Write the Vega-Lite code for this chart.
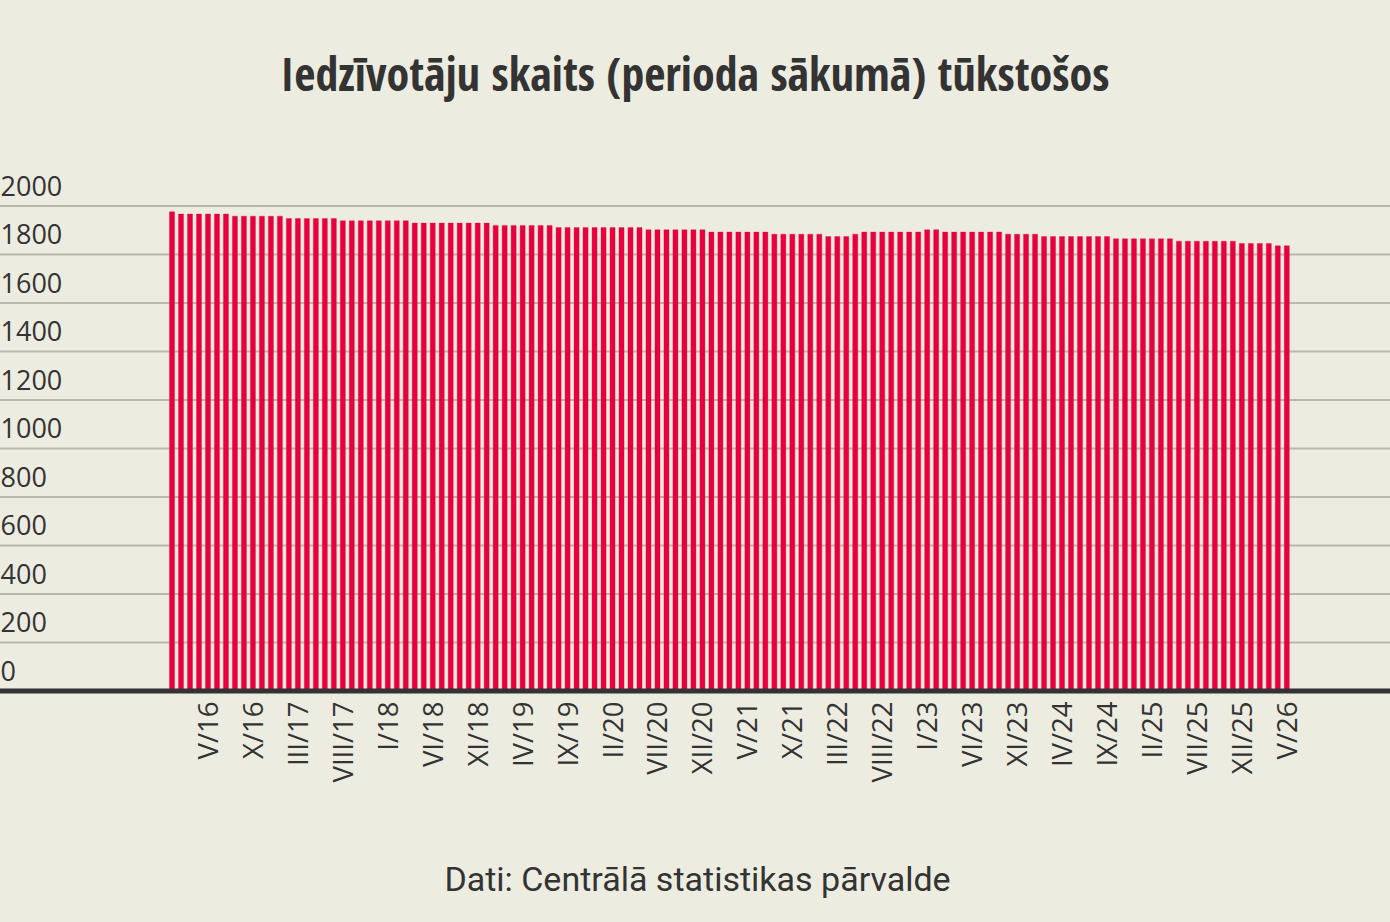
{
  "$schema": "https://vega.github.io/schema/vega-lite/v6.json",
  "width": 1390,
  "height": 485,
  "autosize": {"type": "none"},
  "padding": {"top": 206, "left": 0, "right": 0, "bottom": 231},
  "background": "#ECECE0",
  "config": {"view": {"stroke": null}},
  "title": {
    "text": "Iedzīvotāju skaits (perioda sākumā) tūkstošos",
    "font": "Open Sans Condensed, Noto Sans Condensed, Noto Sans ExtraCondensed, Liberation Sans Narrow, Roboto Condensed, DejaVu Sans Condensed, Arial Narrow, sans-serif",
    "fontSize": 46,
    "fontWeight": "bold",
    "color": "#333333",
    "anchor": "middle",
    "frame": "group",
    "baseline": "alphabetic",
    "offset": 36
  },
  "data": {
    "values": [
      {"m": "I/16", "v": 1976}, {"m": "II/16", "v": 1967}, {"m": "III/16", "v": 1967}, {"m": "IV/16", "v": 1967}, {"m": "V/16", "v": 1967}, {"m": "VI/16", "v": 1967}, {"m": "VII/16", "v": 1967}, {"m": "VIII/16", "v": 1958}, {"m": "IX/16", "v": 1958}, {"m": "X/16", "v": 1958}, {"m": "XI/16", "v": 1958}, {"m": "XII/16", "v": 1958},
      {"m": "I/17", "v": 1958}, {"m": "II/17", "v": 1948.5}, {"m": "III/17", "v": 1948.5}, {"m": "IV/17", "v": 1948.5}, {"m": "V/17", "v": 1948.5}, {"m": "VI/17", "v": 1948.5}, {"m": "VII/17", "v": 1948.5}, {"m": "VIII/17", "v": 1939}, {"m": "IX/17", "v": 1939}, {"m": "X/17", "v": 1939}, {"m": "XI/17", "v": 1939}, {"m": "XII/17", "v": 1939},
      {"m": "I/18", "v": 1939}, {"m": "II/18", "v": 1939}, {"m": "III/18", "v": 1939}, {"m": "IV/18", "v": 1929.5}, {"m": "V/18", "v": 1929.5}, {"m": "VI/18", "v": 1929.5}, {"m": "VII/18", "v": 1929.5}, {"m": "VIII/18", "v": 1929.5}, {"m": "IX/18", "v": 1929.5}, {"m": "X/18", "v": 1929.5}, {"m": "XI/18", "v": 1929.5}, {"m": "XII/18", "v": 1929.5},
      {"m": "I/19", "v": 1920}, {"m": "II/19", "v": 1920}, {"m": "III/19", "v": 1920}, {"m": "IV/19", "v": 1920}, {"m": "V/19", "v": 1920}, {"m": "VI/19", "v": 1920}, {"m": "VII/19", "v": 1920}, {"m": "VIII/19", "v": 1911}, {"m": "IX/19", "v": 1911}, {"m": "X/19", "v": 1911}, {"m": "XI/19", "v": 1911}, {"m": "XII/19", "v": 1911},
      {"m": "I/20", "v": 1911}, {"m": "II/20", "v": 1911}, {"m": "III/20", "v": 1911}, {"m": "IV/20", "v": 1911}, {"m": "V/20", "v": 1911}, {"m": "VI/20", "v": 1902}, {"m": "VII/20", "v": 1902}, {"m": "VIII/20", "v": 1902}, {"m": "IX/20", "v": 1902}, {"m": "X/20", "v": 1902}, {"m": "XI/20", "v": 1902}, {"m": "XII/20", "v": 1902},
      {"m": "I/21", "v": 1892.5}, {"m": "II/21", "v": 1892.5}, {"m": "III/21", "v": 1892.5}, {"m": "IV/21", "v": 1892.5}, {"m": "V/21", "v": 1892.5}, {"m": "VI/21", "v": 1892.5}, {"m": "VII/21", "v": 1892.5}, {"m": "VIII/21", "v": 1884}, {"m": "IX/21", "v": 1884}, {"m": "X/21", "v": 1884}, {"m": "XI/21", "v": 1884}, {"m": "XII/21", "v": 1884},
      {"m": "I/22", "v": 1884}, {"m": "II/22", "v": 1874}, {"m": "III/22", "v": 1874}, {"m": "IV/22", "v": 1874}, {"m": "V/22", "v": 1884}, {"m": "VI/22", "v": 1892.5}, {"m": "VII/22", "v": 1892.5}, {"m": "VIII/22", "v": 1892.5}, {"m": "IX/22", "v": 1892.5}, {"m": "X/22", "v": 1892.5}, {"m": "XI/22", "v": 1892.5}, {"m": "XII/22", "v": 1892.5},
      {"m": "I/23", "v": 1902}, {"m": "II/23", "v": 1902}, {"m": "III/23", "v": 1892.5}, {"m": "IV/23", "v": 1892.5}, {"m": "V/23", "v": 1892.5}, {"m": "VI/23", "v": 1892.5}, {"m": "VII/23", "v": 1892.5}, {"m": "VIII/23", "v": 1892.5}, {"m": "IX/23", "v": 1892.5}, {"m": "X/23", "v": 1884}, {"m": "XI/23", "v": 1884}, {"m": "XII/23", "v": 1884},
      {"m": "I/24", "v": 1884}, {"m": "II/24", "v": 1874}, {"m": "III/24", "v": 1874}, {"m": "IV/24", "v": 1874}, {"m": "V/24", "v": 1874}, {"m": "VI/24", "v": 1874}, {"m": "VII/24", "v": 1874}, {"m": "VIII/24", "v": 1874}, {"m": "IX/24", "v": 1874}, {"m": "X/24", "v": 1865}, {"m": "XI/24", "v": 1865}, {"m": "XII/24", "v": 1865},
      {"m": "I/25", "v": 1865}, {"m": "II/25", "v": 1865}, {"m": "III/25", "v": 1865}, {"m": "IV/25", "v": 1865}, {"m": "V/25", "v": 1855}, {"m": "VI/25", "v": 1855}, {"m": "VII/25", "v": 1855}, {"m": "VIII/25", "v": 1855}, {"m": "IX/25", "v": 1855}, {"m": "X/25", "v": 1855}, {"m": "XI/25", "v": 1855}, {"m": "XII/25", "v": 1845.5},
      {"m": "I/26", "v": 1845.5}, {"m": "II/26", "v": 1845.5}, {"m": "III/26", "v": 1845.5}, {"m": "IV/26", "v": 1836}, {"m": "V/26", "v": 1836}
    ]
  },
  "layer": [
    {
      "data": {"values": [{"g": 200}, {"g": 400}, {"g": 600}, {"g": 800}, {"g": 1000}, {"g": 1200}, {"g": 1400}, {"g": 1600}, {"g": 1800}, {"g": 2000}]},
      "mark": {"type": "rule", "color": "#B8B8AE", "strokeWidth": 2},
      "encoding": {
        "y": {"field": "g", "type": "quantitative"}
      }
    },
    {
      "mark": {"type": "bar", "color": "#E8003D", "stroke": "#E8003D", "strokeOpacity": 0.35, "strokeWidth": 1},
      "encoding": {
        "x": {
          "field": "m",
          "type": "ordinal",
          "sort": null,
          "scale": {"range": [169.5, 1289.3], "paddingInner": 0.44, "paddingOuter": 0},
          "axis": {
            "values": ["V/16", "X/16", "III/17", "VIII/17", "I/18", "VI/18", "XI/18", "IV/19", "IX/19", "II/20", "VII/20", "XII/20", "V/21", "X/21", "III/22", "VIII/22", "I/23", "VI/23", "XI/23", "IV/24", "IX/24", "II/25", "VII/25", "XII/25", "V/26"],
            "labelAngle": -90,
            "labelAlign": "right",
            "labelBaseline": "middle",
            "labelFont": "Open Sans",
            "labelFontSize": 27.5,
            "labelColor": "#333333",
            "labelPadding": 10,
            "labelOffset": 2,
            "ticks": false,
            "tickSize": 0,
            "domain": false,
            "grid": false,
            "title": "Dati: Centrālā statistikas pārvalde",
            "titleFont": "Roboto",
            "titleFontSize": 34,
            "titleFontWeight": "normal",
            "titleColor": "#333333",
            "titlePadding": 82,
            "titleX": 697,
            "titleAnchor": "middle",
            "titleAlign": "center"
          }
        },
        "y": {
          "field": "v",
          "type": "quantitative",
          "scale": {"domain": [0, 2000], "nice": false},
          "axis": {
            "values": [0, 200, 400, 600, 800, 1000, 1200, 1400, 1600, 1800, 2000],
            "format": "d",
            "title": null,
            "domain": false,
            "ticks": false,
            "tickSize": 0,
            "grid": false,
            "labelAlign": "left",
            "labelPadding": 0,
            "labelOffset": -11,
            "labelBaseline": "alphabetic",
            "labelFlush": false,
            "labelFont": "Open Sans",
            "labelFontSize": 27,
            "labelColor": "#333333"
          }
        }
      }
    },
    {
      "data": {"values": [{"base": 0}]},
      "mark": {"type": "rule", "color": "#333333", "strokeWidth": 5},
      "encoding": {
        "y": {"field": "base", "type": "quantitative"}
      }
    }
  ]
}
